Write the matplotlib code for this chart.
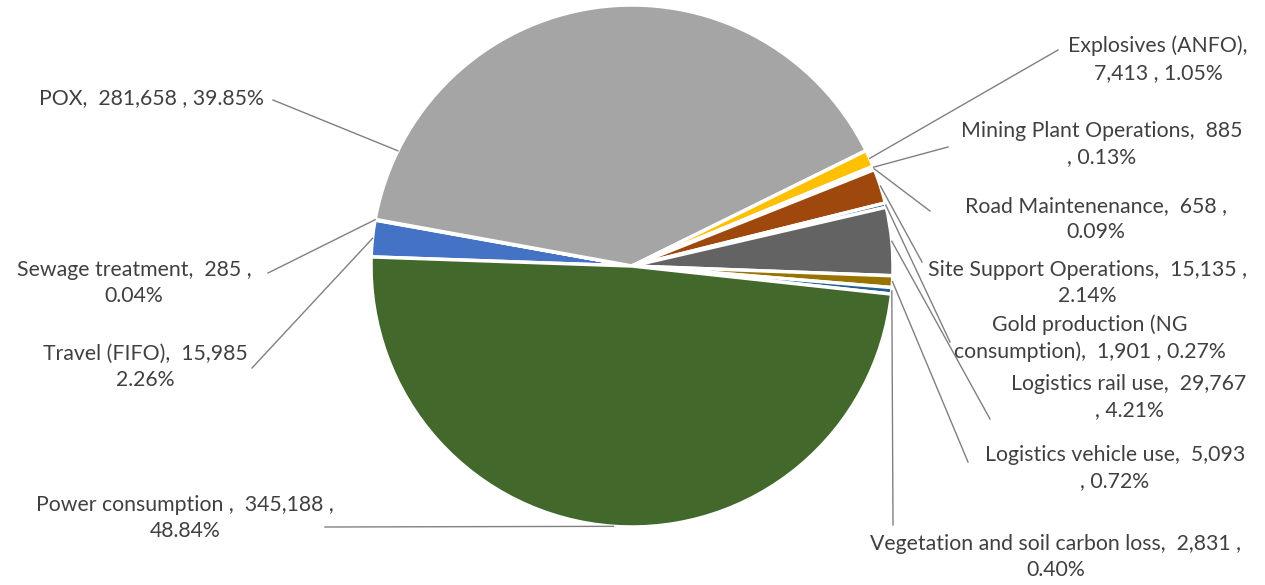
import matplotlib.pyplot as plt
import numpy as np

plt.rcParams["font.family"] = ["Lato", "DejaVu Sans"]

categories = [
    "Travel (FIFO)", "Sewage treatment", "POX", "Explosives (ANFO)",
    "Mining Plant Operations", "Road Maintenenance", "Site Support Operations",
    "Gold production (NG consumption)", "Logistics rail use",
    "Logistics vehicle use", "Vegetation and soil carbon loss", "Power consumption",
]
values = [15985, 285, 281658, 7413, 885, 658, 15135, 1901, 29767, 5093, 2831, 345188]
label_texts = [
    "Travel (FIFO),  15,985\n2.26%",
    "Sewage treatment,  285 ,\n0.04%",
    "POX,  281,658 , 39.85%",
    "Explosives (ANFO),\n7,413 , 1.05%",
    "Mining Plant Operations,  885\n, 0.13%",
    "Road Maintenenance,  658 ,\n0.09%",
    "Site Support Operations,  15,135 ,\n2.14%",
    "Gold production (NG\nconsumption),  1,901 , 0.27%",
    "Logistics rail use,  29,767\n, 4.21%",
    "Logistics vehicle use,  5,093\n, 0.72%",
    "Vegetation and soil carbon loss,  2,831 ,\n0.40%",
    "Power consumption ,  345,188 ,\n48.84%",
]
colors = ["#4472C4", "#ED7D31", "#A5A5A5", "#FFC000", "#5B9BD5", "#70AD47",
          "#9E480E", "#264478", "#636363", "#997300", "#255E91", "#43682B"]

W, H = 1265, 585
# layout in pixels (from top-left): label centre, leader start
label_pos = [(145, 367), (134, 283), (151, 98), (1158, 59), (1102, 144), (1096, 219),
             (1087, 283), (1090, 338), (1129, 397), (1115, 468), (1056, 557), (185, 518)]
leader_start = [(252, 368), (268, 273), (273, 100), (1058, 50), (948, 147), (930, 211),
                (922, 262), (950, 342), (990, 419), (968, 462), (893, 525), (325, 527)]
leader_angle = {2: 153.8}  # POX leader hits the side of the slice

cx, cy, r = 632, H - 266, 261

fig = plt.figure(figsize=(W / 100, H / 100), dpi=100)
ax = fig.add_axes([0, 0, 1, 1])

wedges, _ = ax.pie(values, colors=colors, startangle=178, counterclock=False,
                   center=(cx, cy), radius=r, frame=True,
                   wedgeprops=dict(edgecolor="white", linewidth=2.5))
ax.set_xlim(0, W)
ax.set_ylim(0, H)
ax.set_aspect("equal")
ax.axis("off")

for i, w in enumerate(wedges):
    ang = leader_angle.get(i, (w.theta1 + w.theta2) / 2)
    ex = cx + r * np.cos(np.radians(ang))
    ey = cy + r * np.sin(np.radians(ang))
    sx, sy = leader_start[i]
    ax.plot([sx, ex], [H - sy, ey], color="#808080", lw=1)
    lx, ly = label_pos[i]
    ax.text(lx, H - ly, label_texts[i], ha="center", va="center",
            fontsize=15.3, color="#404040", linespacing=1.42)

fig.savefig("out.png", dpi=100)
